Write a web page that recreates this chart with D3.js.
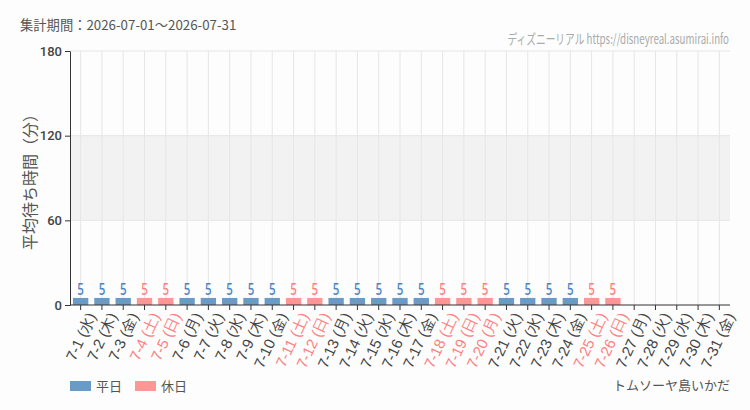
<!DOCTYPE html>
<html>
<head>
<meta charset="utf-8">
<script src="https://cdn.jsdelivr.net/npm/d3@7"></script>
<style>
  body { margin: 0; background: #fcfdfc; }
  svg { font-family: "Noto Sans CJK JP", "Noto Sans", sans-serif; }
</style>
</head>
<body>
<div id="chart"></div>
<script>
// days of July 2026
const days = d3.range(1, 32).map(d => "7-" + d);
const weekdays = ["水","木","金","土","日","月","火","水","木","金","土","日","月","火","水","木","金","土","日","月","火","水","木","金","土","日","月","火","水","木","金"];
const holidays = ["7-4","7-5","7-11","7-12","7-18","7-19","7-20","7-25","7-26"];
const waits = [5,5,5,5,5,5,5,5,5,5,5,5,5,5,5,5,5,5,5,5,5,5,5,5,5,5,null,null,null,null,null];
const yTicks = [0, 60, 120, 180];

const width = 750, height = 410;
const margin = {top: 51, right: 20, bottom: 105, left: 70};
const w = width - margin.left - margin.right;
const h = height - margin.top - margin.bottom;

const blue = "#6a9ac6", pink = "#ff9696";
const blueText = "#4b82bd", pinkText = "#ff7f7f";

const svg = d3.select("#chart").append("svg")
    .attr("width", width)
    .attr("height", height);

const g = svg.append("g")
    .attr("transform", "translate(" + margin.left + "," + margin.top + ")");

const x = d3.scaleBand().domain(days).range([0, w]).paddingInner(0.28).paddingOuter(0.14);
const y = d3.scaleLinear().domain([0, 180]).range([h, 0]);

// shaded band 60-120
g.append("rect")
    .attr("x", 0).attr("width", w)
    .attr("y", y(120)).attr("height", y(60) - y(120))
    .attr("fill", "#f2f2f2");

// grid
g.selectAll(".vgrid").data(days).enter().append("line")
    .attr("x1", d => x(d) + x.bandwidth() / 2)
    .attr("x2", d => x(d) + x.bandwidth() / 2)
    .attr("y1", 0).attr("y2", h)
    .attr("stroke", "#e6e6e6");
g.selectAll(".hgrid").data(yTicks.slice(1)).enter().append("line")
    .attr("x1", 0).attr("x2", w)
    .attr("y1", d => y(d)).attr("y2", d => y(d))
    .attr("stroke", "#e6e6e6");

const isHoliday = d => holidays.includes(d);

const data = days.map((d, i) => ({day: d, wd: weekdays[i], v: waits[i]}));

g.selectAll(".bar").data(data.filter(d => d.v != null)).enter().append("rect")
    .attr("x", d => x(d.day))
    .attr("width", x.bandwidth())
    .attr("y", d => y(d.v))
    .attr("height", d => h - y(d.v))
    .attr("fill", d => isHoliday(d.day) ? pink : blue);

// value labels, squeezed horizontally to look condensed
g.selectAll(".val").data(data.filter(d => d.v != null)).enter().append("text")
    .attr("transform", d => "translate(" + (x(d.day) + x.bandwidth() / 2) + "," + (y(d.v) - 3) + ") scale(0.68,1)")
    .attr("text-anchor", "middle")
    .attr("font-size", 17)
    .attr("font-weight", 500)
    .attr("font-family", "'Noto Sans', sans-serif")
    .attr("fill", d => isHoliday(d.day) ? pinkText : blueText)
    .text(d => d.v);

// y axis
const yAxis = g.append("g")
    .call(d3.axisLeft(y).tickValues(yTicks).tickSize(5).tickSizeOuter(0));
yAxis.select(".domain").attr("stroke", "#333");
yAxis.selectAll("line").attr("stroke", "#333");
yAxis.selectAll("text").attr("font-size", 13).attr("fill", "#444").attr("font-family", "Roboto, sans-serif").attr("font-weight", 500);

// x axis
const xAxis = g.append("g")
    .attr("transform", "translate(0," + h + ")")
    .call(d3.axisBottom(x).tickSize(5).tickSizeOuter(0).tickFormat((d, i) => d + " (" + weekdays[i] + ")"));
xAxis.select(".domain").attr("stroke", "#333").attr("d", "M0,0H" + w);
xAxis.selectAll("line").attr("stroke", "#333");
xAxis.selectAll("text")
    .attr("font-size", 15)
    .attr("fill", d => isHoliday(d) ? pinkText : "#444")
    .attr("text-anchor", "end")
    .attr("dx", "-0.2em")
    .attr("dy", "0.85em")
    .attr("transform", "rotate(-65)")
    .attr("y", 6)
    .attr("x", 0);

// y title
svg.append("text")
    .attr("transform", "translate(36," + (margin.top + h / 2) + ") rotate(-90)")
    .attr("text-anchor", "middle")
    .attr("font-size", 16)
    .attr("fill", "#555")
    .text("平均待ち時間（分）");

// header
svg.append("text")
    .attr("x", 20).attr("y", 30)
    .attr("font-size", 13.3)
    .attr("fill", "#555")
    .text("集計期間：2026-07-01～2026-07-31");

// watermark, condensed
svg.append("text")
    .attr("transform", "translate(729,44) scale(0.72,1)")
    .attr("text-anchor", "end")
    .attr("font-size", 13.5)
    .attr("fill", "#aaa")
    .text("ディズニーリアル https://disneyreal.asumirai.info");

// legend
const legend = [{label: "平日", color: blue}, {label: "休日", color: pink}];
const lg = svg.selectAll(".lg").data(legend).enter().append("g")
    .attr("transform", (d, i) => "translate(" + (70 + i * 65) + ",381)");
lg.append("rect").attr("width", 21).attr("height", 10).attr("fill", d => d.color);
lg.append("text").attr("x", 26).attr("y", 10).attr("font-size", 13).attr("fill", "#555").text(d => d.label);

svg.append("text")
    .attr("x", 730).attr("y", 390)
    .attr("text-anchor", "end")
    .attr("font-size", 13)
    .attr("fill", "#555")
    .text("トムソーヤ島いかだ");
</script>
</body>
</html>
